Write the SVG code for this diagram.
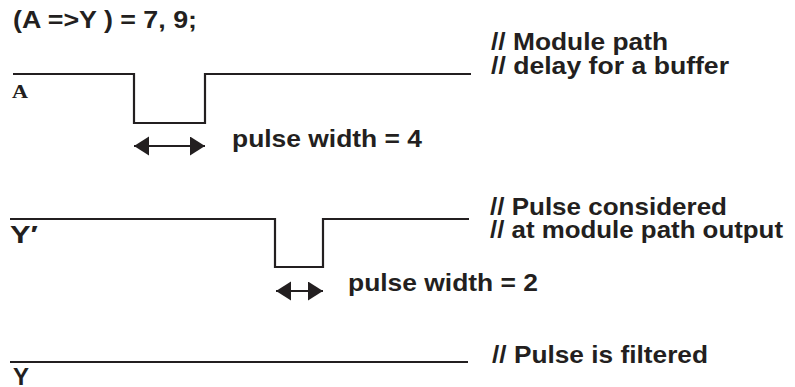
<svg xmlns="http://www.w3.org/2000/svg" width="795" height="387" viewBox="0 0 795 387">
<style>
  .t { font-family: "Liberation Sans", Arial, Helvetica, sans-serif; font-weight: bold; font-size: 24px; fill: #231f20; }
  .m { font-family: "Liberation Serif", "Courier New", serif; font-weight: bold; font-size: 19px; fill: #231f20; }
  .w { fill: none; stroke: #231f20; stroke-width: 2.2; stroke-linejoin: miter; }
  .a { fill: none; stroke: #231f20; stroke-width: 2; }
</style>
<defs>
  <marker id="ah" markerUnits="userSpaceOnUse" markerWidth="16" markerHeight="20" refX="15" refY="9.5" orient="auto-start-reverse">
    <path d="M0,0 L15,9.5 L0,19 z" fill="#231f20"/>
  </marker>
</defs>
<rect width="795" height="387" fill="#ffffff"/>
<text class="t" x="13" y="28" textLength="184" lengthAdjust="spacingAndGlyphs">(A =&gt;Y ) = 7, 9;</text>

<g id="signal-A">
  <path class="w" d="M13,74 H134 V123 H205 V74 H471"/>
  <text class="m" x="12" y="98" textLength="16" lengthAdjust="spacingAndGlyphs">A</text>
</g>
<g id="comment-A">
  <text class="t" x="491" y="50" textLength="177" lengthAdjust="spacingAndGlyphs">// Module path</text>
  <text class="t" x="491" y="74" textLength="238" lengthAdjust="spacingAndGlyphs">// delay for a buffer</text>
</g>
<g id="label-pw4">
  <text class="t" x="232" y="147" textLength="190" lengthAdjust="spacingAndGlyphs">pulse width = 4</text>
</g>

<g id="signal-Yp">
  <path class="w" d="M10,219 H275 V267 H323 V219 H469"/>
  <text class="t" x="10" y="243" textLength="28" lengthAdjust="spacingAndGlyphs">Y′</text>
</g>
<g id="comment-Yp">
  <text class="t" x="490" y="215" textLength="237" lengthAdjust="spacingAndGlyphs">// Pulse considered</text>
  <text class="t" x="490" y="238" textLength="293" lengthAdjust="spacingAndGlyphs">// at module path output</text>
</g>
<g id="label-pw2">
  <text class="t" x="348" y="291" textLength="190" lengthAdjust="spacingAndGlyphs">pulse width = 2</text>
</g>

<g id="signal-Y">
  <path class="w" d="M10,362 H468"/>
  <text class="t" x="13" y="385" textLength="16" lengthAdjust="spacingAndGlyphs">Y</text>
</g>
<g id="comment-Y">
  <text class="t" x="492" y="363" textLength="216" lengthAdjust="spacingAndGlyphs">// Pulse is filtered</text>
</g>

<g id="connectors">
  <line class="a" x1="134" y1="146" x2="205" y2="146" marker-start="url(#ah)" marker-end="url(#ah)"/>
  <line class="a" x1="276" y1="291" x2="323" y2="291" marker-start="url(#ah)" marker-end="url(#ah)"/>
</g>
</svg>
